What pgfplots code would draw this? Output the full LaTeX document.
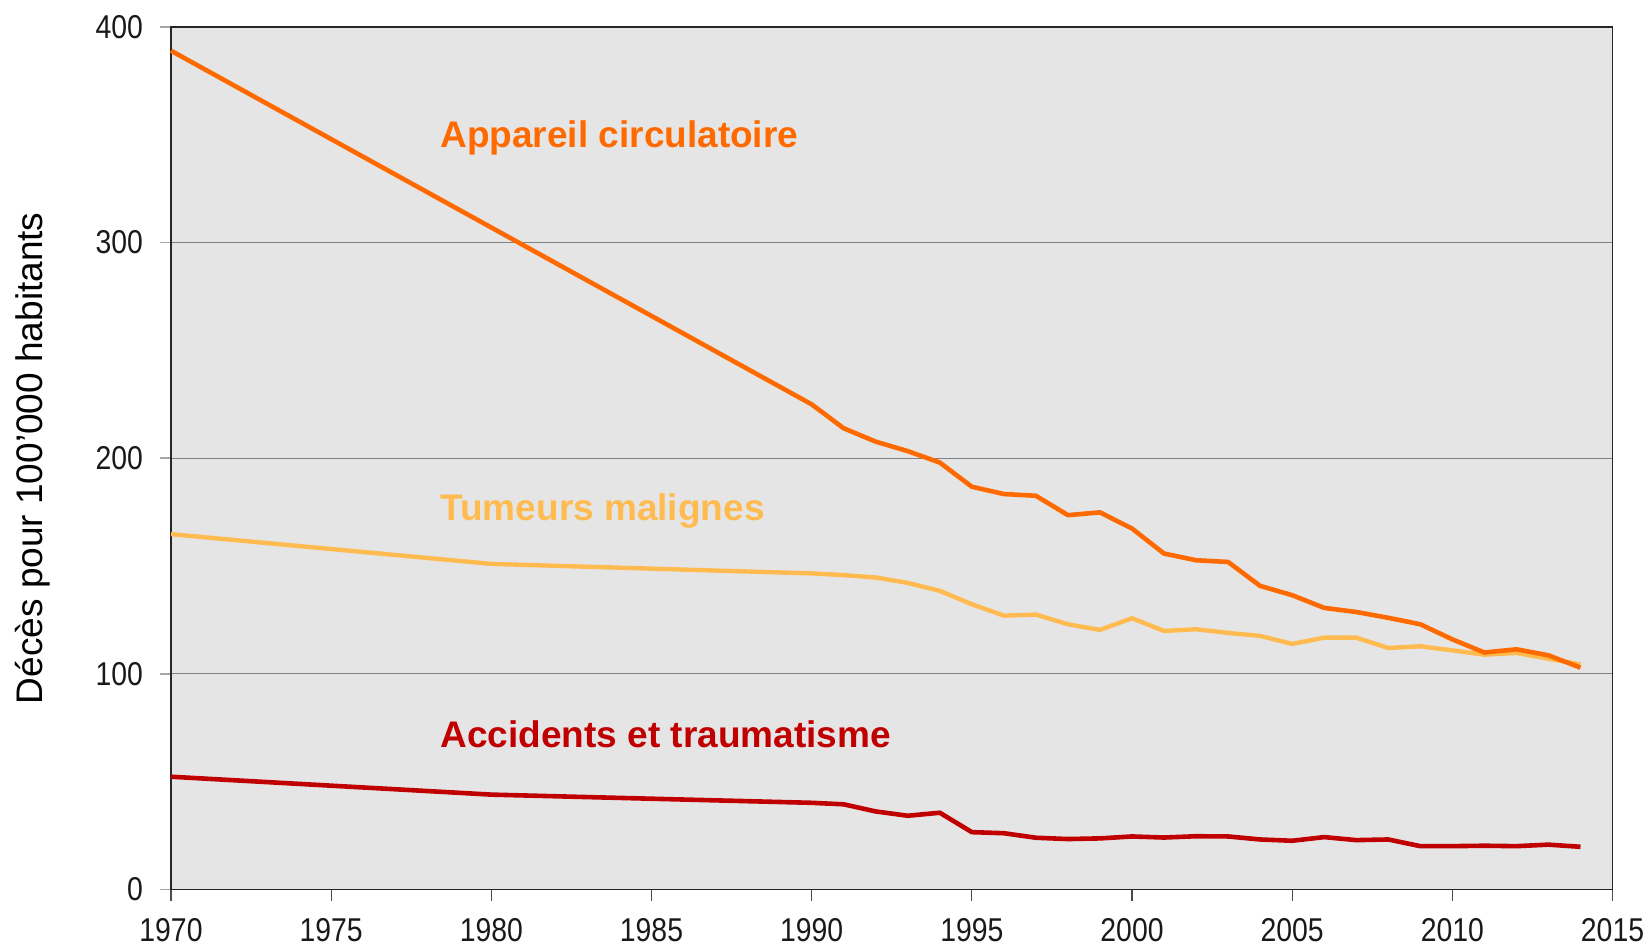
\documentclass[border=0pt]{standalone}
\usepackage{pgfplots}
\pgfplotsset{compat=1.18}
\usepackage{fontspec}
\setmainfont{Liberation Sans}
\newfontfamily\narrow[FakeStretch=0.86]{Liberation Sans}
\definecolor{circ}{HTML}{FF6A00}
\definecolor{tum}{HTML}{FFBB50}
\definecolor{acc}{HTML}{C00000}
\definecolor{bg}{HTML}{E5E5E5}

\pgfplotstableread{
year val
1970 389
1980 307
1990 225
1991 213.9
1992 207.7
1993 203.3
1994 198
1995 186.8
1996 183.4
1997 182.6
1998 173.6
1999 174.9
2000 167.4
2001 155.8
2002 152.7
2003 151.9
2004 140.8
2005 136.5
2006 130.6
2007 128.7
2008 126.0
2009 123.0
2010 116.0
2011 109.9
2012 111.4
2013 108.6
2014 102.9
}\circdata

\pgfplotstableread{
year val
1970 164.8
1980 151
1990 146.6
1991 145.8
1992 144.7
1993 142.2
1994 138.5
1995 132.3
1996 127.0
1997 127.5
1998 123.0
1999 120.4
2000 125.8
2001 119.9
2002 120.7
2003 119.0
2004 117.6
2005 113.9
2006 116.8
2007 116.8
2008 112.0
2009 112.8
2010 110.9
2011 108.9
2012 109.7
2013 107.0
2014 104.4
}\tumdata

\pgfplotstableread{
year val
1970 52.3
1980 44
1990 40.2
1991 39.5
1992 36.2
1993 34.2
1994 35.6
1995 26.6
1996 26.1
1997 24.0
1998 23.4
1999 23.7
2000 24.6
2001 24.1
2002 24.7
2003 24.6
2004 23.2
2005 22.6
2006 24.3
2007 22.9
2008 23.2
2009 20.1
2010 20.1
2011 20.3
2012 20.1
2013 20.8
2014 19.8
}\accdata

\begin{document}
\begin{tikzpicture}
\path[use as bounding box] (0,0) rectangle (825bp,474.5bp);
\begin{axis}[
  at={(85.5bp,29.75bp)}, anchor=south west,
  scale only axis, width=720.75bp, height=431.25bp,
  xmin=1970, xmax=2015, ymin=0, ymax=400,
  xtick={1970,1975,...,2015}, ytick={0,100,...,400},
  tick pos=left, tick align=outside, major tick length=5.5bp,
  xtick style={black!70, line width=0.6bp},
  ytick style={black!35, line width=0.8bp},
  ymajorgrids, major grid style={black!50, line width=0.5bp},
  axis background/.style={fill=bg},
  axis line style={black!85, line width=0.7bp},
  /pgf/number format/assume math mode=true,
  /pgf/number format/1000 sep={},
  ticklabel style={font=\narrow\fontsize{16.5bp}{18bp}\selectfont, black!90},
  xticklabel style={yshift=-5.5bp},
  yticklabel style={xshift=-5bp},
  every axis y label/.style={at={(axis description cs:-0.0957,0.5)}, rotate=90, anchor=center, font=\fontsize{18.5bp}{20bp}\selectfont},
  ylabel={Décès pour 100’000 habitants},
  clip=false,
]
\addplot[tum, line width=2.2bp, line join=round] table[x=year,y=val]{\tumdata};
\addplot[circ, line width=2.3bp, line join=round] table[x=year,y=val]{\circdata};
\addplot[acc, line width=2.3bp, line join=round] table[x=year,y=val]{\accdata};
\node[anchor=base west, inner sep=0, text=circ, font=\bfseries\fontsize{18.5bp}{20bp}\selectfont] at (axis cs:1978.4,343.9) {Appareil circulatoire};
\node[anchor=base west, inner sep=0, text=tum, font=\bfseries\fontsize{18.5bp}{20bp}\selectfont] at (axis cs:1978.4,170.9) {Tumeurs malignes};
\node[anchor=base west, inner sep=0, text=acc, font=\bfseries\fontsize{18.5bp}{20bp}\selectfont] at (axis cs:1978.4,65.8) {Accidents et traumatisme};
\end{axis}
\end{tikzpicture}
\end{document}
